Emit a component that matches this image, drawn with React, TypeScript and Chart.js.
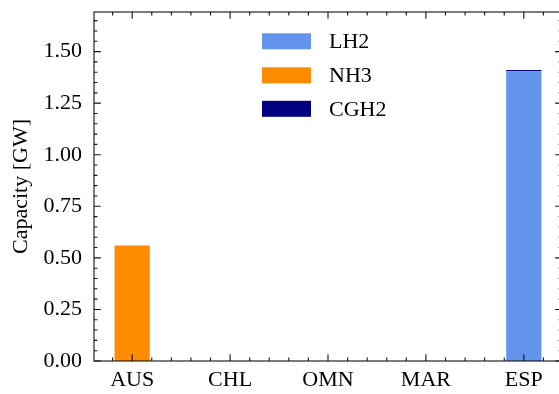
import { useEffect, useRef } from 'react';
import { Chart, registerables } from 'chart.js';

Chart.register(...registerables);

// Installed capacity per exporting country, stacked by carrier
const countries = ['AUS', 'CHL', 'OMN', 'MAR', 'ESP'];
const lh2 = [0, 0, 0, 0, 1.405];
const nh3 = [0.56, 0, 0, 0, 0];
const cgh2 = [0, 0, 0, 0, 0.006];
const carriers = ['LH2', 'NH3', 'CGH2'];
const carrierColors = ['#6495ED', '#FF8C00', '#000080'];
const yTicks = [0, 0.25, 0.5, 0.75, 1.0, 1.25, 1.5];

const CANVAS_W = 575;
const CANVAS_H = 394;
const FONT = '"Liberation Serif", "Times New Roman", serif';

// Draws the boxed frame with inward major/minor ticks on all four sides,
// plus a frameless legend inside the plot area.
const framePlugin = {
  id: 'frame',
  afterDatasetsDraw(chart: any) {
    const { ctx, chartArea: a, scales } = chart;
    const xs = scales.x;
    const ys = scales.y;
    const major = 6.8;
    const minor = 3.4;
    ctx.save();
    ctx.strokeStyle = '#111';
    ctx.lineWidth = 1.1;
    ctx.strokeRect(a.left, a.top, a.right - a.left, a.bottom - a.top);

    ctx.beginPath();
    // x ticks (bottom and top), majors on the category positions
    const xStep = 0.2;
    const first = Math.ceil(xs.min / xStep);
    for (let k = first; k * xStep <= xs.max + 1e-9; k++) {
      const v = k * xStep;
      const p = xs.getPixelForValue(v);
      const len = k % 5 === 0 ? major : minor;
      ctx.moveTo(p, a.bottom);
      ctx.lineTo(p, a.bottom - len);
      ctx.moveTo(p, a.top);
      ctx.lineTo(p, a.top + len);
    }
    // y ticks (left and right)
    const yStep = 0.05;
    for (let i = 0; i * yStep <= ys.max + 1e-9; i++) {
      const p = ys.getPixelForValue(i * yStep);
      const len = i % 5 === 0 ? major : minor;
      ctx.moveTo(a.left, p);
      ctx.lineTo(a.left + len, p);
      ctx.moveTo(a.right, p);
      ctx.lineTo(a.right - len, p);
    }
    ctx.stroke();

    // legend
    const boxX = 262;
    const boxW = 49;
    const boxH = 16;
    const rowY = [41.3, 75.3, 108.8];
    ctx.font = `22px ${FONT}`;
    ctx.textBaseline = 'middle';
    ctx.textAlign = 'left';
    chart.data.datasets.forEach((ds: any, i: number) => {
      ctx.fillStyle = ds.backgroundColor;
      ctx.fillRect(boxX, rowY[i] - boxH / 2, boxW, boxH);
      ctx.fillStyle = '#000';
      ctx.fillText(ds.label, 329, rowY[i] + 1);
    });
    ctx.restore();
  },
};

export default function App() {
  const canvasRef = useRef<HTMLCanvasElement | null>(null);

  useEffect(() => {
    document.body.style.margin = '0';
    document.body.style.overflow = 'hidden';
    const canvas = canvasRef.current;
    if (!canvas) return;

    const series = [lh2, nh3, cgh2];
    const chart = new Chart(canvas, {
      type: 'bar',
      data: {
        datasets: series.map((values, s) => ({
          label: carriers[s],
          data: values.map((y, i) => ({ x: i, y })),
          backgroundColor: carrierColors[s],
          borderWidth: 0,
          categoryPercentage: 1,
          barPercentage: 0.36,
        })),
      },
      options: {
        responsive: false,
        animation: false,
        devicePixelRatio: 1,
        layout: { padding: { top: 12, right: CANVAS_W - 562, left: 0, bottom: 0 } },
        font: { family: FONT, size: 22 },
        plugins: {
          legend: { display: false },
          tooltip: { enabled: false },
        },
        scales: {
          x: {
            type: 'linear',
            stacked: true,
            offset: false,
            min: -0.39,
            max: 4.39,
            grid: { display: false, drawTicks: false, offset: false },
            border: { display: false },
            afterBuildTicks: (s: any) => {
              s.ticks = countries.map((_, i) => ({ value: i }));
            },
            afterFit: (s: any) => {
              s.height = 33;
              s.paddingLeft = 0;
              s.paddingRight = 0;
            },
            ticks: {
              autoSkip: false,
              maxRotation: 0,
              padding: 6,
              color: '#000',
              font: { family: FONT, size: 22 },
              callback: (v: any) => countries[Math.round(v)] ?? '',
            },
          },
          y: {
            stacked: true,
            min: 0,
            max: 1.692,
            grid: { display: false, drawTicks: false },
            border: { display: false },
            afterBuildTicks: (s: any) => {
              s.ticks = yTicks.map((value) => ({ value }));
            },
            afterFit: (s: any) => {
              s.width = 94;
              s.paddingTop = 0;
              s.paddingBottom = 0;
            },
            ticks: {
              autoSkip: false,
              padding: 12,
              color: '#000',
              font: { family: FONT, size: 22 },
              callback: (v: any) => Number(v).toFixed(2),
            },
            title: {
              display: true,
              text: 'Capacity [GW]',
              color: '#000',
              font: { family: FONT, size: 22 },
              padding: { top: 8, bottom: 0 },
            },
          },
        },
      },
      plugins: [framePlugin],
    } as any);

    return () => chart.destroy();
  }, []);

  return (
    <div style={{ width: 559, height: 394, overflow: 'hidden', background: '#fff' }}>
      <canvas ref={canvasRef} width={CANVAS_W} height={CANVAS_H} style={{ display: 'block' }} />
    </div>
  );
}
